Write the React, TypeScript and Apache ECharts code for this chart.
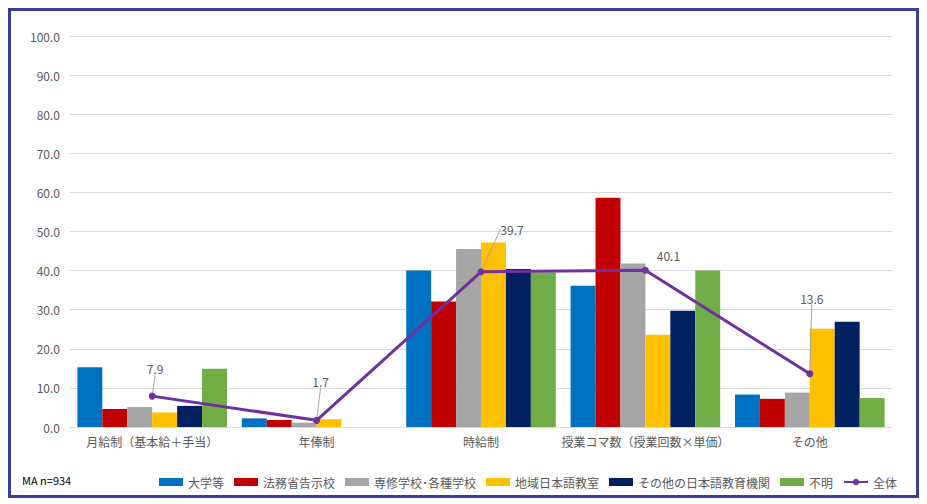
import React, { useEffect, useRef } from "react";
import * as echarts from "echarts";

const categories = ["月給制（基本給＋手当）", "年俸制", "時給制", "授業コマ数（授業回数×単価）", "その他"];
const seriesNames = ["大学等", "法務省告示校", "専修学校･各種学校", "地域日本語教室", "その他の日本語教育機関", "不明"];
const daigaku = [15.3, 2.2, 40.0, 36.1, 8.3];
const houmushou = [4.6, 1.8, 32.1, 58.6, 7.2];
const senshu = [5.1, 1.1, 45.5, 41.8, 8.8];
const chiiki = [3.7, 2.0, 47.2, 23.6, 25.1];
const sonota = [5.4, 0, 40.4, 29.7, 26.9];
const fumei = [14.9, 0, 39.5, 40.0, 7.4];
const zentai = [7.9, 1.7, 39.7, 40.1, 13.6];
const yTicks = [0, 10, 20, 30, 40, 50, 60, 70, 80, 90, 100];
const note = "MA n=934";

const barData = [daigaku, houmushou, senshu, chiiki, sonota, fumei];
const colors = ["#0070C0", "#C00000", "#A5A5A5", "#FFC000", "#002060", "#70AD47"];
const lineColor = "#7030A0";
const labelShift = [
  [3, -13],
  [4, -24],
  [31, -28],
  [23, 0],
  [2, -61],
];

const FONT = "'Noto Sans CJK JP', 'Noto Sans', sans-serif";

export default function App() {
  const ref = useRef<HTMLDivElement>(null);
  useEffect(() => {
    if (!ref.current) return;
    const chart = echarts.init(ref.current, null, { renderer: "svg" });
    const bars = barData.map((d, i) => ({
      name: seriesNames[i],
      type: "bar",
      data: d,
      barGap: "0%",
      barCategoryGap: "9%",
      itemStyle: { color: colors[i] },
    }));
    chart.setOption({
      animation: false,
      textStyle: { fontFamily: FONT },
      grid: { left: 59, right: 24, top: 25, bottom: 68, containLabel: false },
      xAxis: {
        type: "category",
        data: categories,
        axisLine: { lineStyle: { color: "#D9D9D9", width: 1 } },
        axisTick: { show: false },
        axisLabel: { color: "#595959", fontSize: 12, margin: 8, fontFamily: FONT, interval: 0 },
      },
      yAxis: {
        type: "value",
        min: yTicks[0],
        max: yTicks[yTicks.length - 1],
        interval: 10,
        axisLine: { show: false },
        axisTick: { show: false },
        splitLine: { lineStyle: { color: "#D9D9D9", width: 1 } },
        axisLabel: {
          color: "#595959",
          fontSize: 12,
          margin: 10,
          fontFamily: FONT,
          formatter: (v: number) => v.toFixed(1),
        },
      },
      legend: {
        left: 143,
        top: 460,
        width: 800,
        itemWidth: 24,
        itemHeight: 8,
        itemGap: 10,
        textStyle: { color: "#595959", fontSize: 12, fontFamily: FONT },
        data: [...seriesNames.map((n) => ({ name: n, icon: "rect" })), { name: "全体" }],
      },
      graphic: [
        {
          type: "text",
          left: 11,
          top: 463,
          style: { text: note, fill: "#000000", fontSize: 11, fontFamily: FONT },
        },
      ],
      series: [
        ...bars,
        {
          name: "全体",
          type: "line",
          data: zentai.map((v, i) => ({
            value: v,
            labelLine: { show: i !== 3 },
          })),
          symbol: "circle",
          symbolSize: 7,
          lineStyle: { color: lineColor, width: 3 },
          itemStyle: { color: lineColor },
          label: {
            show: true,
            position: "top",
            color: "#595959",
            fontSize: 12,
            fontFamily: FONT,
            formatter: (p: any) => p.value.toFixed(1),
          },
          labelLine: { show: true, lineStyle: { color: "#A6A6A6", width: 1 } },
          labelLayout: (p: any) => ({ dx: labelShift[p.dataIndex][0], dy: labelShift[p.dataIndex][1] }),
          z: 5,
        },
      ],
    });
    return () => chart.dispose();
  }, []);
  return (
    <div
      style={{
        width: 911,
        height: 490,
        border: "3px solid #3C3C9C",
        boxSizing: "border-box",
        background: "#fff",
      }}
    >
      <div ref={ref} style={{ width: 905, height: 484 }} />
    </div>
  );
}
